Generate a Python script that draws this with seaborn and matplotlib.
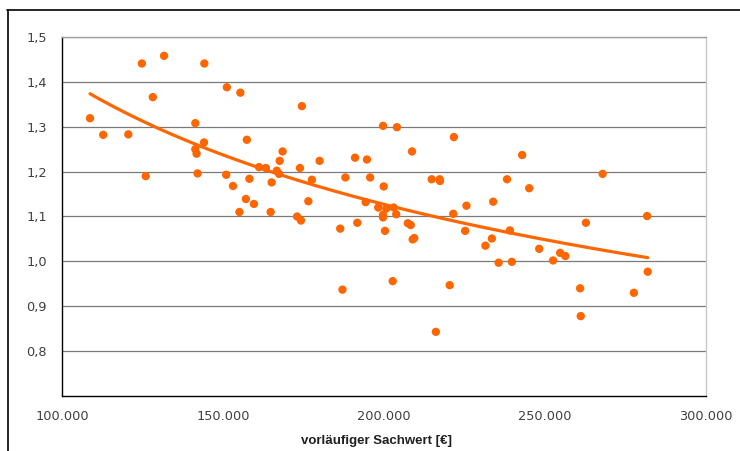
import numpy as np
import pandas as pd
import matplotlib
matplotlib.use("Agg")
import matplotlib.pyplot as plt
import seaborn as sns
from matplotlib.ticker import FuncFormatter

# ---- data ----
sachwert = [108700, 112800, 120600, 124800, 131700, 128200, 126000, 144200, 141400, 144100,
            141400, 141800, 142100, 151200, 155400, 157400, 151000, 153100, 158200, 157100,
            159600, 155100, 164800, 161200, 163300, 165100, 166700, 167400, 167600, 168500,
            174500, 199700, 204000, 221700, 180000, 191000, 194700, 208700, 173900, 177600,
            188000, 195700, 199900, 214800, 217300, 217400, 176500, 194300, 198200, 200700,
            203000, 199700, 203800, 221500, 225600, 173000, 174200, 186400, 191700, 199700,
            200300, 207400, 208300, 208900, 209400, 225200, 231500, 187100, 202700, 220400,
            216100, 242900, 238200, 245100, 233900, 267900, 281700, 262700, 239100, 233500,
            248200, 235600, 239700, 252500, 254700, 256300, 281900, 260900, 277600, 261100]
faktor = [1.319, 1.282, 1.283, 1.441, 1.458, 1.366, 1.190, 1.441, 1.308, 1.265,
          1.250, 1.240, 1.196, 1.388, 1.376, 1.271, 1.193, 1.168, 1.184, 1.139,
          1.128, 1.110, 1.110, 1.210, 1.208, 1.176, 1.202, 1.195, 1.224, 1.245,
          1.346, 1.302, 1.299, 1.277, 1.224, 1.231, 1.227, 1.245, 1.208, 1.182,
          1.187, 1.187, 1.167, 1.183, 1.183, 1.179, 1.134, 1.132, 1.120, 1.118,
          1.120, 1.104, 1.105, 1.106, 1.124, 1.100, 1.091, 1.073, 1.086, 1.098,
          1.068, 1.085, 1.081, 1.049, 1.052, 1.068, 1.035, 0.937, 0.956, 0.947,
          0.843, 1.237, 1.183, 1.163, 1.133, 1.195, 1.101, 1.086, 1.069, 1.051,
          1.028, 0.997, 0.999, 1.002, 1.019, 1.012, 0.977, 0.940, 0.930, 0.878]
x_ticks = [100000, 150000, 200000, 250000, 300000]
y_ticks = [0.8, 0.9, 1.0, 1.1, 1.2, 1.3, 1.4, 1.5]
x_label = "vorläufiger Sachwert [€]"

df = pd.DataFrame({"x": sachwert, "y": faktor})

# power trend line (fitted from the points)
b, ln_a = np.polyfit(np.log(df["x"]), np.log(df["y"]), 1)
xt = np.linspace(min(sachwert), max(sachwert), 200)
trend = pd.DataFrame({"x": xt, "y": np.exp(ln_a) * xt ** b})

sns.set_style("white")
plt.rcParams["font.family"] = ["DejaVu Sans"]

ORANGE = "#FF6600"
fig = plt.figure(figsize=(7.4, 4.51), dpi=100)
ax = fig.add_axes([62 / 740, 1 - 396 / 451, 644 / 740, 359 / 451])

sns.scatterplot(data=df, x="x", y="y", ax=ax, color=ORANGE, s=36,
                edgecolor="none", zorder=3, legend=False)
sns.lineplot(data=trend, x="x", y="y", ax=ax, color=ORANGE, linewidth=2.3,
             zorder=4, legend=False)

ax.set_xlim(100000, 300000)
ax.set_ylim(0.7, 1.5)
ax.set_xticks(x_ticks)
ax.set_yticks(y_ticks)
ax.xaxis.set_major_formatter(FuncFormatter(lambda v, p: f"{int(v):,}".replace(",", ".")))
ax.yaxis.set_major_formatter(FuncFormatter(lambda v, p: f"{v:.1f}".replace(".", ",")))
ax.tick_params(axis="both", length=0, labelsize=9.3, labelcolor="#404040")
ax.tick_params(axis="x", pad=10)
ax.tick_params(axis="y", pad=11)

ax.grid(axis="y", color="#7a7a7a", linewidth=0.9)
ax.grid(axis="x", visible=False)
ax.set_axisbelow(True)

ax.spines["left"].set_color("black")
ax.spines["left"].set_linewidth(1.0)
ax.spines["bottom"].set_color("black")
ax.spines["bottom"].set_linewidth(1.0)
ax.spines["right"].set_color("#c8c8c8")
ax.spines["right"].set_linewidth(1.0)
ax.spines["top"].set_color("#a0a0a0")
ax.spines["top"].set_linewidth(1.0)

ax.set_ylabel("")
ax.set_xlabel(x_label, fontsize=9.5, fontweight="bold", color="#202020",
              family=["Liberation Sans", "DejaVu Sans"])
ax.xaxis.set_label_coords((376.7 - 62) / 644, -(441 - 396) / 359)
ax.xaxis.label.set_va("center")

# outer chart frame (cropped on right/bottom)
fig.add_artist(plt.Line2D([7 / 740, 1.0], [1 - 9.5 / 451] * 2, color="black", linewidth=1.2,
                          transform=fig.transFigure))
fig.add_artist(plt.Line2D([7.5 / 740] * 2, [0.0, 1 - 9.5 / 451], color="black", linewidth=1.2,
                          transform=fig.transFigure))

fig.savefig("out.png", dpi=100)
